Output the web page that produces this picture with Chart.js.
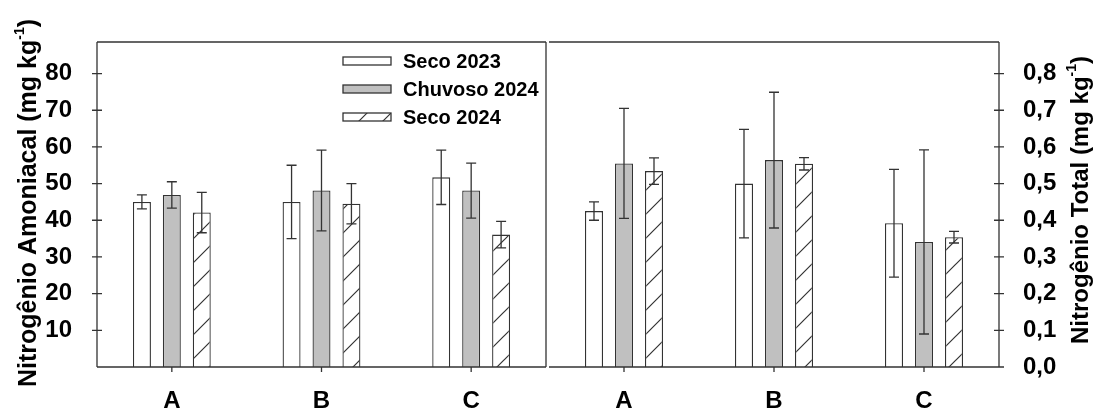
<!DOCTYPE html>
<html>
<head>
<meta charset="utf-8">
<script src="https://cdn.jsdelivr.net/npm/chart.js@4.4.1/dist/chart.umd.min.js"></script>
<style>
  html, body { margin: 0; padding: 0; background: #fff; }
  #wrap { position: relative; width: 1094px; height: 411px; }
  .panel { position: absolute; top: 0; height: 411px; }
  #left { left: 0; width: 548px; }
  #right { left: 548px; width: 546px; }
</style>
</head>
<body>
<div id="wrap">
  <div class="panel" id="left"><canvas id="amoniacal-chart"></canvas></div>
  <div class="panel" id="right"><canvas id="total-chart"></canvas></div>
</div>
<script>
const categories = ["A", "B", "C"];
const seriesNames = ["Seco 2023", "Chuvoso 2024", "Seco 2024"];

// Nitrogênio amoniacal (mg kg-1)
const amoniacalSeco2023 = [45.0, 45.0, 51.7];
const amoniacalChuvoso2024 = [46.9, 48.1, 48.1];
const amoniacalSeco2024 = [42.1, 44.5, 36.1];
const amoniacalSeco2023Err = [1.9, 10.0, 7.4];
const amoniacalChuvoso2024Err = [3.6, 11.0, 7.5];
const amoniacalSeco2024Err = [5.5, 5.5, 3.6];

// Nitrogênio total (mg kg-1)
const totalSeco2023 = [0.425, 0.50, 0.392];
const totalChuvoso2024 = [0.555, 0.564, 0.341];
const totalSeco2024 = [0.534, 0.554, 0.354];
const totalSeco2023Err = [0.025, 0.148, 0.147];
const totalChuvoso2024Err = [0.150, 0.185, 0.251];
const totalSeco2024Err = [0.036, 0.017, 0.016];

const amoniacalTicks = [10, 20, 30, 40, 50, 60, 70, 80];
const totalTicks = [0, 0.1, 0.2, 0.3, 0.4, 0.5, 0.6, 0.7, 0.8];

const FONT = '"Liberation Sans", Arial, sans-serif';
const INK = "#333";
Chart.defaults.font.family = FONT;
Chart.defaults.color = "#000";

function hatchPattern(ctx) {
  const c = document.createElement("canvas");
  c.width = 24;
  c.height = 24;
  const g = c.getContext("2d");
  g.fillStyle = "#fff";
  g.fillRect(0, 0, 24, 24);
  g.strokeStyle = INK;
  g.lineWidth = 1.2;
  g.beginPath();
  g.moveTo(0, 24); g.lineTo(24, 0);
  g.moveTo(-2, 2); g.lineTo(2, -2);
  g.moveTo(22, 26); g.lineTo(26, 22);
  g.stroke();
  return ctx.createPattern(c, "repeat");
}

function makeDatasets(values, errors, pattern) {
  const fills = ["#ffffff", "#c0c0c0", pattern];
  return values.map((v, i) => ({
    label: seriesNames[i],
    data: v,
    errors: errors[i],
    backgroundColor: fills[i],
    borderColor: INK,
    borderWidth: 1.3,
    barPercentage: 0.6,
    categoryPercentage: 0.6,
  }));
}

const errorBars = {
  id: "errorBars",
  afterDatasetsDraw(chart) {
    const ctx = chart.ctx;
    const y = chart.scales.y;
    ctx.save();
    ctx.strokeStyle = INK;
    ctx.lineWidth = 1.3;
    chart.data.datasets.forEach((ds, i) => {
      chart.getDatasetMeta(i).data.forEach((bar, j) => {
        const v = ds.data[j], e = ds.errors[j];
        const top = y.getPixelForValue(v + e);
        const bot = y.getPixelForValue(v - e);
        ctx.beginPath();
        ctx.moveTo(bar.x, top); ctx.lineTo(bar.x, bot);
        ctx.moveTo(bar.x - 5, top); ctx.lineTo(bar.x + 5, top);
        ctx.moveTo(bar.x - 5, bot); ctx.lineTo(bar.x + 5, bot);
        ctx.stroke();
      });
    });
    ctx.restore();
  }
};

function drawTitle(ctx, x, yc, parts, size) {
  const main = "bold " + size + "px " + FONT;
  const sup = "bold " + Math.round(size * 0.58) + "px " + FONT;
  ctx.save();
  ctx.translate(x, yc);
  ctx.rotate(-Math.PI / 2);
  ctx.fillStyle = "#000";
  ctx.textBaseline = "alphabetic";
  ctx.font = main;
  const w1 = ctx.measureText(parts[0]).width;
  const w3 = ctx.measureText(parts[2]).width;
  ctx.font = sup;
  const w2 = ctx.measureText(parts[1]).width;
  let cx = -(w1 + w2 + w3) / 2;
  ctx.font = main;
  ctx.fillText(parts[0], cx, 0);
  cx += w1;
  ctx.font = sup;
  ctx.fillText(parts[1], cx, -size * 0.48);
  cx += w2;
  ctx.font = main;
  ctx.fillText(parts[2], cx, 0);
  ctx.restore();
}

// frame, axis ticks, titles and legend
const decorations = {
  id: "decorations",
  afterDraw(chart, args, opts) {
    const ctx = chart.ctx;
    const a = chart.chartArea;
    const y = chart.scales.y;
    const x = chart.scales.x;
    ctx.save();
    ctx.strokeStyle = INK;
    ctx.lineWidth = 1.3;
    ctx.beginPath();
    ctx.moveTo(a.left, a.top); ctx.lineTo(a.right, a.top);
    ctx.moveTo(a.left, a.bottom); ctx.lineTo(a.right, a.bottom);
    if (opts.side === "left") {
      ctx.moveTo(a.left, a.top); ctx.lineTo(a.left, a.bottom);
      ctx.moveTo(a.right, a.top); ctx.lineTo(a.right, a.bottom);
    } else {
      ctx.moveTo(a.right, a.top); ctx.lineTo(a.right, a.bottom);
    }
    const ax = opts.side === "left" ? a.left : a.right;
    y.ticks.forEach(t => {
      const py = y.getPixelForValue(t.value);
      ctx.moveTo(ax - 5, py); ctx.lineTo(ax + 5, py);
    });
    categories.forEach((c, i) => {
      const px = x.getPixelForValue(i);
      ctx.moveTo(px, a.bottom); ctx.lineTo(px, a.bottom + 5);
    });
    ctx.stroke();
    ctx.restore();

    drawTitle(ctx, opts.titleX, opts.titleY, opts.title, opts.titleSize);

    if (opts.legend) {
      ctx.save();
      chart.data.datasets.forEach((ds, i) => {
        const cy = opts.legend.y + i * 28;
        ctx.fillStyle = ds.backgroundColor;
        ctx.fillRect(opts.legend.x, cy - 4, 48, 8);
        ctx.strokeStyle = INK;
        ctx.lineWidth = 1.3;
        ctx.strokeRect(opts.legend.x, cy - 4, 48, 8);
        ctx.fillStyle = "#000";
        ctx.font = "bold 20px " + FONT;
        ctx.textBaseline = "middle";
        ctx.fillText(ds.label, opts.legend.x + 60, cy + 1);
      });
      ctx.restore();
    }
  }
};

function makeOptions(side, yMax, tickValues, fmt, deco) {
  return {
    responsive: true,
    maintainAspectRatio: false,
    animation: false,
    layout: { padding: side === "left" ? { left: 0, right: 2, top: 42, bottom: 0 } : { left: 1, right: 0, top: 42, bottom: 0 } },
    plugins: {
      legend: { display: false },
      tooltip: { enabled: false },
      decorations: deco,
    },
    scales: {
      x: {
        grid: { display: false },
        border: { display: false },
        ticks: { font: { size: 24, weight: "bold" }, padding: 12 },
        afterFit: s => { s.height = 44; },
      },
      y: {
        position: side,
        min: 0,
        max: yMax,
        grid: { display: false },
        border: { display: false },
        ticks: { font: { size: 24, weight: "bold" }, padding: side === "left" ? 17 : 16, callback: fmt },
        afterBuildTicks: s => { s.ticks = tickValues.map(v => ({ value: v })); },
        afterFit: s => { s.width = side === "left" ? 97 : 95; },
      },
    },
  };
}

const leftCanvas = document.getElementById("amoniacal-chart");
const rightCanvas = document.getElementById("total-chart");

new Chart(leftCanvas, {
  type: "bar",
  data: {
    labels: categories,
    datasets: makeDatasets(
      [amoniacalSeco2023, amoniacalChuvoso2024, amoniacalSeco2024],
      [amoniacalSeco2023Err, amoniacalChuvoso2024Err, amoniacalSeco2024Err],
      hatchPattern(leftCanvas.getContext("2d"))
    ),
  },
  options: makeOptions("left", 88.6, amoniacalTicks, v => String(v), {
    side: "left",
    title: ["Nitrogênio Amoniacal (mg kg", "-1", ")"],
    titleX: 36,
    titleY: 203,
    titleSize: 25,
    legend: { x: 343, y: 61 },
  }),
  plugins: [errorBars, decorations],
});

new Chart(rightCanvas, {
  type: "bar",
  data: {
    labels: categories,
    datasets: makeDatasets(
      [totalSeco2023, totalChuvoso2024, totalSeco2024],
      [totalSeco2023Err, totalChuvoso2024Err, totalSeco2024Err],
      hatchPattern(rightCanvas.getContext("2d"))
    ),
  },
  options: makeOptions("right", 0.886, totalTicks, v => v.toFixed(1).replace(".", ","), {
    side: "right",
    title: ["Nitrogênio Total (mg kg", "-1", ")"],
    titleX: 540,
    titleY: 200,
    titleSize: 24,
  }),
  plugins: [errorBars, decorations],
});
</script>
</body>
</html>
